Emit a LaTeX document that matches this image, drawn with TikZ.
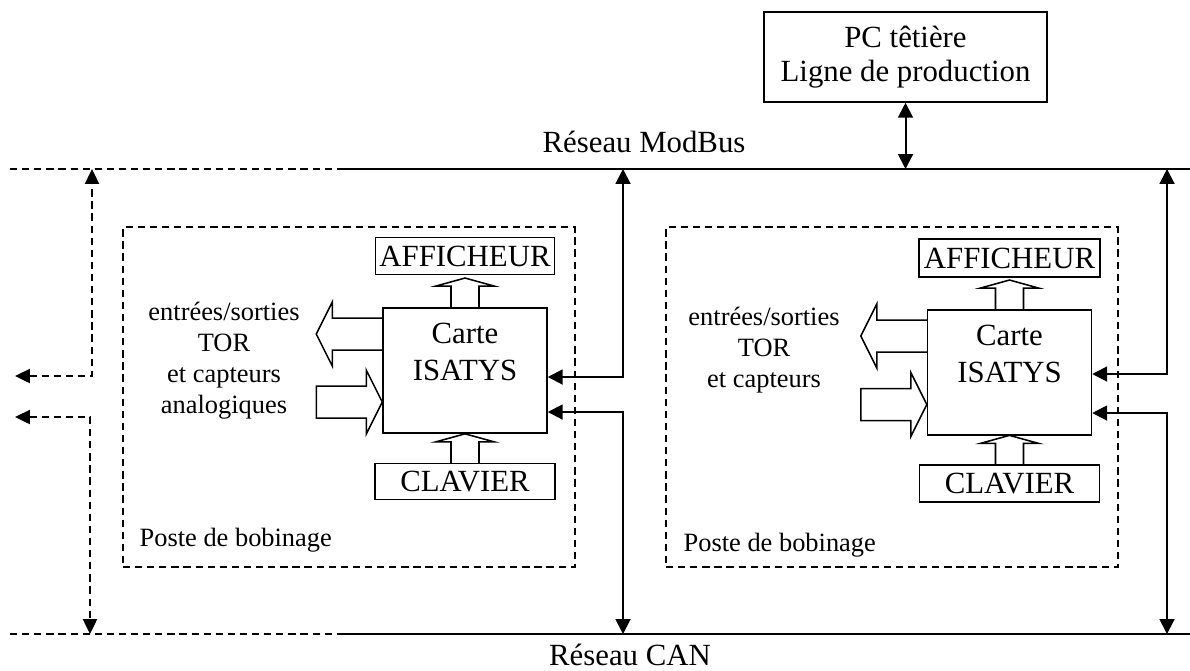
\documentclass[tikz,border=0pt]{standalone}
\usepackage{fontspec}
\setmainfont{Liberation Serif}
\usetikzlibrary{arrows.meta,calc,positioning}
\newcommand{\fleche}{\draw[{Triangle[length=6.8pt,width=6.8pt]}-{Triangle[length=6.8pt,width=6.8pt]},line width=0.9pt]}
\newcommand{\flechept}{\draw[{Triangle[length=6.8pt,width=6.4pt]}-{Triangle[length=6.8pt,width=6.4pt]},line width=0.9pt,dash pattern=on 3.3pt off 2.2pt]}
% grosses flèches creuses
\newcommand{\flechehaut}[1]{\draw[line width=0.7pt] (#1) ++(-14,0) -- ++(0,-21) -- ++(-15,0) -- ++(29,-8) -- ++(29,8) -- ++(-15,0) -- ++(0,21);}
\newcommand{\flechegauche}[1]{\draw[line width=0.7pt] (#1) ++(0,-16) -- ++(-50,0) -- ++(0,-16) -- ++(-16,32) -- ++(16,32) -- ++(0,-16) -- ++(50,0);}
\newcommand{\flechedroite}[1]{\draw[line width=0.7pt] (#1) -- ++(-16,-32) -- ++(0,16) -- ++(-50,0) -- ++(0,32) -- ++(50,0) -- ++(0,16) -- cycle;}

\begin{document}
\begin{tikzpicture}[x=0.4545pt, y=-0.4545pt, node distance=52pt,
      grand/.style={font=\fontsize{14}{17}\selectfont},
      petit/.style={font=\fontsize{12}{14}\selectfont},
      boite/.style={draw, line width=0.7pt, inner sep=0pt, grand},
      carte/.style={boite, minimum width=74.5pt, minimum height=57pt},
      poste/.style={draw, line width=0.6pt, dash pattern=on 3.3pt off 2.2pt,
                    minimum width=205.5pt, minimum height=154.5pt},
      reseau/.style={line width=0.9pt},
      reseaupt/.style={line width=0.9pt, dash pattern=on 3.3pt off 2.2pt}]
      \useasboundingbox (0,0) rectangle (1190,670);

      % réseaux
      \coordinate (mbG)  at (10,169);
      \coordinate (mbM)  at (340,169);
      \coordinate (mbD)  at (1190,169);
      \coordinate (canG) at (10,634);
      \coordinate (canM) at (342,634);
      \coordinate (canD) at (1190,634);
      \draw[reseaupt] (mbG) -- (mbM);
      \draw[reseau]   (mbM) -- (mbD);
      \draw[reseaupt] (canG) -- (canM);
      \draw[reseau]   (canM) -- (canD);
      \node(modbus)[grand, anchor=base, inner sep=0pt] at (644,152) {Réseau ModBus};
      \node(can)   [grand, anchor=base, inner sep=0pt] at (630,665) {Réseau CAN};

      % PC têtière
      \node(pc)[boite, align=center, minimum width=128.6pt, minimum height=40.9pt,
                font=\fontsize{14}{15.5}\selectfont] at (905.5,57) {PC têtière\\Ligne de production};
      \fleche(pc) -- (pc |- mbD);

      % sorties vers les autres postes
      \coordinate (mbX)     at (92,169);
      \coordinate (sortieA) at (15,376);
      \coordinate (canX)    at (90,634);
      \coordinate (sortieB) at (15,417);
      \flechept(sortieA) -| (mbX);
      \flechept(sortieB) -| (canX);

      % poste de gauche
      \node(posteG)[poste] at (349,397) {};
      \node(carteG)[carte] at (465,370.5) {};
      \node(isatysG)[grand, align=center, inner sep=0pt, below=7pt of carteG.north] {Carte\\ISATYS};
      \node(affG)  [boite, minimum width=81.4pt, minimum height=16.8pt, above of=carteG] {AFFICHEUR};
      \node(clavG) [boite, minimum width=81.8pt, minimum height=16.4pt, below of=carteG, node distance=50.5pt] {CLAVIER};
      \node(esG)   [petit, align=center, inner sep=0pt, anchor=north] at (224,302)
            {entrées/sorties\\TOR\\et capteurs\\analogiques};
      \node(bobG)  [petit, anchor=base west, inner sep=0pt] at ($(posteG.south west)+(17,-21)$) {Poste de bobinage};

      \flechehaut{carteG.north}
      \flechehaut{clavG.north}
      \flechegauche{$(carteG.north west)+(0,27)$}
      \flechedroite{$(carteG.north west)+(0,95)$}

      \coordinate (mbCG)  at (623,169);
      \coordinate (canCG) at (623,634);
      \fleche($(carteG.east)+(0,6.5)$) -| (mbCG);
      \fleche($(carteG.east)+(0,41.5)$) -| (canCG);

      % poste de droite
      \node(posteD)[poste] at (892,397) {};
      \node(carteD)[carte] at (1009.5,372.5) {};
      \node(isatysD)[grand, align=center, inner sep=0pt, below=7pt of carteD.north] {Carte\\ISATYS};
      \node(affD)  [boite, minimum width=82.3pt, minimum height=17.3pt, above of=carteD] {AFFICHEUR};
      \node(clavD) [boite, minimum width=81.8pt, minimum height=16.8pt, below of=carteD, node distance=50.5pt] {CLAVIER};
      \node(esD)   [petit, align=center, inner sep=0pt, anchor=north] at (764,307)
            {entrées/sorties\\TOR\\et capteurs};
      \node(bobD)  [petit, anchor=base west, inner sep=0pt] at ($(posteD.south west)+(18,-16)$) {Poste de bobinage};

      \flechehaut{carteD.north}
      \flechehaut{clavD.north}
      \flechegauche{$(carteD.north west)+(0,27)$}
      \flechedroite{$(carteD.north west)+(0,95.5)$}

      \coordinate (mbCD)  at (1167,169);
      \coordinate (canCD) at (1167,634);
      \fleche($(carteD.east)+(0,1.5)$) -| (mbCD);
      \fleche($(carteD.east)+(0,40.5)$) -| (canCD);
   \end{tikzpicture}
\end{document}
